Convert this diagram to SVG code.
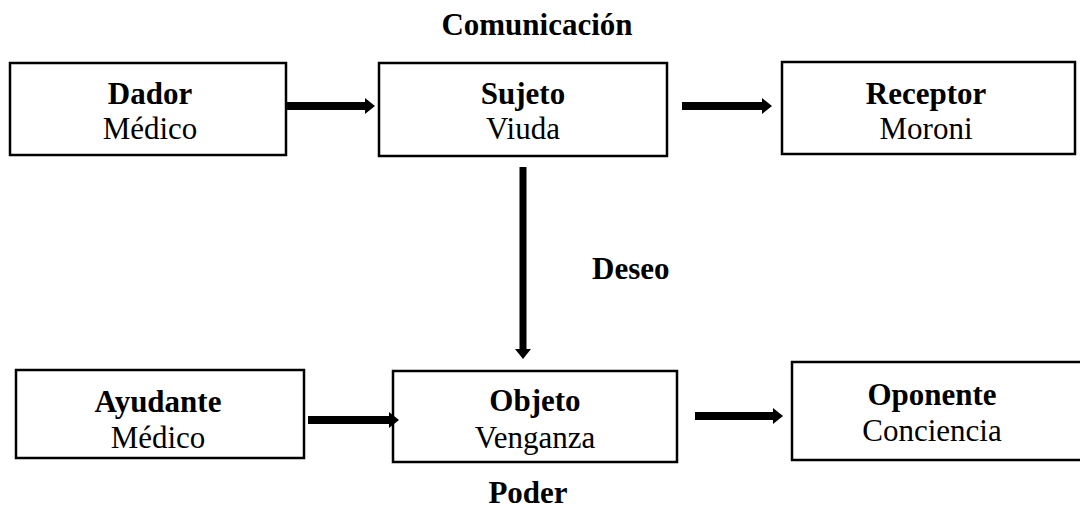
<svg xmlns="http://www.w3.org/2000/svg" width="1080" height="515" viewBox="0 0 1080 515">
<style>
.box{fill:#fff;stroke:#000;stroke-width:2.5}
.t{font-family:"Liberation Serif","Times New Roman",serif;font-size:31px;fill:#000;text-anchor:middle}
.b{font-weight:bold}
.shaft{stroke:#000;stroke-width:8;fill:none}
.head{fill:#000}
</style>
<rect width="1080" height="515" fill="#fff"/>
<text class="t b" x="537" y="35">Comunicación</text>
<text class="t b" x="592" y="279" style="text-anchor:start">Deseo</text>
<text class="t b" x="528" y="503">Poder</text>
<g id="dador"><rect class="box" x="10" y="63" width="276" height="92"/><text class="t b" x="150" y="104">Dador</text><text class="t" x="150" y="139">Médico</text></g>
<g id="sujeto"><rect class="box" x="379" y="63" width="288" height="93"/><text class="t b" x="523" y="104">Sujeto</text><text class="t" x="523" y="139">Viuda</text></g>
<g id="receptor"><rect class="box" x="782" y="62" width="293" height="92"/><text class="t b" x="926" y="104">Receptor</text><text class="t" x="926" y="139">Moroni</text></g>
<g id="ayudante"><rect class="box" x="16" y="370" width="288" height="88"/><text class="t b" x="158" y="412">Ayudante</text><text class="t" x="158" y="448">Médico</text></g>
<g id="objeto"><rect class="box" x="393" y="371" width="284" height="91"/><text class="t b" x="535" y="411">Objeto</text><text class="t" x="535" y="448">Venganza</text></g>
<g id="oponente"><rect class="box" x="792" y="362" width="292" height="98"/><text class="t b" x="932" y="405">Oponente</text><text class="t" x="932" y="441">Conciencia</text></g>
<g id="connectors">
<line class="shaft" x1="286" y1="106" x2="366" y2="106"/><path class="head" d="M365,98 L375,106 L365,114 Z"/>
<line class="shaft" x1="682" y1="106" x2="763" y2="106"/><path class="head" d="M762,98 L772,106 L762,114 Z"/>
<line class="shaft" x1="308" y1="420" x2="390" y2="420"/><path class="head" d="M389,412 L399,420 L389,428 Z"/>
<line class="shaft" x1="695" y1="416" x2="774" y2="416"/><path class="head" d="M773,408 L783,416 L773,424 Z"/>
<line style="stroke:#000;stroke-width:7" x1="523" y1="167" x2="523" y2="350"/><path class="head" d="M515,349 L523,359 L531,349 Z"/>
</g>
</svg>
